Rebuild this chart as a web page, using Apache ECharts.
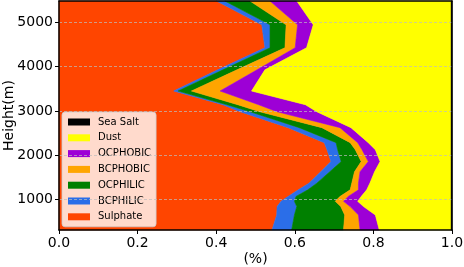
<!DOCTYPE html>
<html>
<head>
<meta charset="utf-8">
<script src="https://cdn.jsdelivr.net/npm/echarts@6/dist/echarts.min.js"></script>
<style>
  html, body { margin: 0; padding: 0; background: #fff; }
  #chart { width: 464px; height: 267px; }
</style>
</head>
<body>
<div id="chart"></div>
<script>
// height levels (m) and aerosol fractions at each level, bottom to top
const heights  = [300, 640, 830, 950, 1060, 1210, 1360, 1620, 1850, 2120, 2280, 2620, 2980, 3140, 3450, 3930, 4430, 4950, 5490];
const sulphate = [0.542, 0.554, 0.555, 0.565, 0.583, 0.609, 0.636, 0.666, 0.692, 0.682, 0.675, 0.583, 0.461, 0.417, 0.292, 0.404, 0.524, 0.516, 0.401];
const bcphilic = [0.050, 0.045, 0.050, 0.034, 0.020, 0.024, 0.020, 0.023, 0.026, 0.027, 0.030, 0.028, 0.025, 0.010, 0.011, 0.013, 0.013, 0.021, 0.021];
const ocphilic = [0.132, 0.128, 0.112, 0.104, 0.112, 0.108, 0.089, 0.063, 0.051, 0.045, 0.036, 0.058, 0.025, 0.028, 0.034, 0.036, 0.038, 0.041, 0.064];
const bcphobic = [0.042, 0.035, 0.024, 0.021, 0.021, 0.021, 0.017, 0.014, 0.018, 0.017, 0.019, 0.046, 0.044, 0.053, 0.073, 0.051, 0.026, 0.029, 0.051];
const ocphobic = [0.049, 0.043, 0.034, 0.036, 0.033, 0.021, 0.029, 0.037, 0.030, 0.034, 0.027, 0.028, 0.101, 0.119, 0.080, 0.020, 0.029, 0.040, 0.068];
const dust     = [0.183, 0.193, 0.223, 0.238, 0.229, 0.215, 0.207, 0.195, 0.181, 0.193, 0.211, 0.255, 0.342, 0.371, 0.508, 0.474, 0.368, 0.351, 0.393];
const seaSalt  = [0.002, 0.002, 0.002, 0.002, 0.002, 0.002, 0.002, 0.002, 0.002, 0.002, 0.002, 0.002, 0.002, 0.002, 0.002, 0.002, 0.002, 0.002, 0.002];

const xTicks = [0, 0.2, 0.4, 0.6, 0.8, 1.0];
const yTicks = [1000, 2000, 3000, 4000, 5000];

const species = [
  { name: 'Sulphate', values: sulphate, color: '#ff4500' },
  { name: 'BCPHILIC', values: bcphilic, color: '#2b6ee8' },
  { name: 'OCPHILIC', values: ocphilic, color: '#008000' },
  { name: 'BCPHOBIC', values: bcphobic, color: '#ffa500' },
  { name: 'OCPHOBIC', values: ocphobic, color: '#9d00d6' },
  { name: 'Dust', values: dust, color: '#ffff00' },
  { name: 'Sea Salt', values: seaSalt, color: '#000000' }
];

// running sums so each band sits on the previous one
let running = heights.map(() => 0);
const series = species.map((sp) => {
  const lower = running.slice();
  const upper = lower.map((v, i) => v + sp.values[i]);
  running = upper;
  return {
    name: sp.name,
    type: 'custom',
    itemStyle: { color: sp.color },
    data: [[0, heights[0]]],
    z: 2,
    renderItem: (params, api) => {
      const pts = [];
      for (let i = 0; i < heights.length; i++) pts.push(api.coord([upper[i], heights[i]]));
      for (let i = heights.length - 1; i >= 0; i--) pts.push(api.coord([lower[i], heights[i]]));
      return {
        type: 'polygon',
        shape: { points: pts },
        style: { fill: sp.color, stroke: sp.color, lineWidth: 0.6 }
      };
    }
  };
});

const chart = echarts.init(document.getElementById('chart'), null, { renderer: 'canvas' });
const font = 'DejaVu Sans';

const option = {
  animation: false,
  textStyle: { fontFamily: font },
  grid: { left: 59, right: 12, top: 1, bottom: 37, containLabel: false, outerBoundsMode: 'none' },
  legend: {
    orient: 'vertical',
    left: 62,
    top: 112,
    data: ['Sea Salt', 'Dust', 'OCPHOBIC', 'BCPHOBIC', 'OCPHILIC', 'BCPHILIC', 'Sulphate'],
    icon: 'rect',
    itemWidth: 22,
    itemHeight: 7,
    itemGap: 3.8,
    padding: [4, 5, 4, 6],
    backgroundColor: 'rgba(255,255,255,0.8)',
    borderColor: 'rgba(204,204,204,0.8)',
    borderWidth: 1,
    borderRadius: 3,
    textStyle: { fontFamily: font, fontSize: 10, color: '#000', lineHeight: 12, padding: [0, 0, 0, 3] },
    selectedMode: false
  },
  xAxis: [{
    type: 'value',
    min: 0,
    max: 1,
    interval: 0.2,
    name: '(%)',
    nameLocation: 'middle',
    nameGap: 22,
    nameMoveOverlap: false,
    nameTextStyle: { fontFamily: font, fontSize: 14, color: '#000' },
    z: 10,
    axisLine: { show: true, lineStyle: { color: '#000', width: 1.5 } },
    axisTick: { show: true, length: 4, lineStyle: { color: '#000' } },
    axisLabel: { fontFamily: font, fontSize: 14, color: '#000', margin: 6, formatter: (v) => v.toFixed(1), customValues: xTicks },
    splitLine: { show: false }
  }, {
    type: 'value',
    position: 'top',
    min: 0,
    max: 1,
    z: 10,
    axisLine: { show: true, onZero: false, lineStyle: { color: '#000', width: 1.5 } },
    axisTick: { show: false },
    axisLabel: { show: false },
    splitLine: { show: false }
  }],
  yAxis: [{
    type: 'value',
    min: 300,
    max: 5490,
    name: 'Height(m)',
    nameLocation: 'middle',
    nameGap: 43,
    nameMoveOverlap: false,
    nameTextStyle: { fontFamily: font, fontSize: 14, color: '#000' },
    z: 10,
    axisLine: { show: true, lineStyle: { color: '#000', width: 1.5 } },
    axisTick: { show: true, length: 4, lineStyle: { color: '#000' }, customValues: yTicks },
    axisLabel: { fontFamily: font, fontSize: 14, color: '#000', margin: 6, customValues: yTicks, formatter: (v) => String(v) },
    splitLine: { show: true, lineStyle: { color: 'rgba(190,190,190,0.7)', type: [3, 2], width: 1 } }
  }, {
    type: 'value',
    position: 'right',
    min: 300,
    max: 5490,
    z: 10,
    axisLine: { show: true, onZero: false, lineStyle: { color: '#000', width: 1.5 } },
    axisTick: { show: false },
    axisLabel: { show: false },
    splitLine: { show: false }
  }],
  series: series
};

chart.setOption(option);
</script>
</body>
</html>
